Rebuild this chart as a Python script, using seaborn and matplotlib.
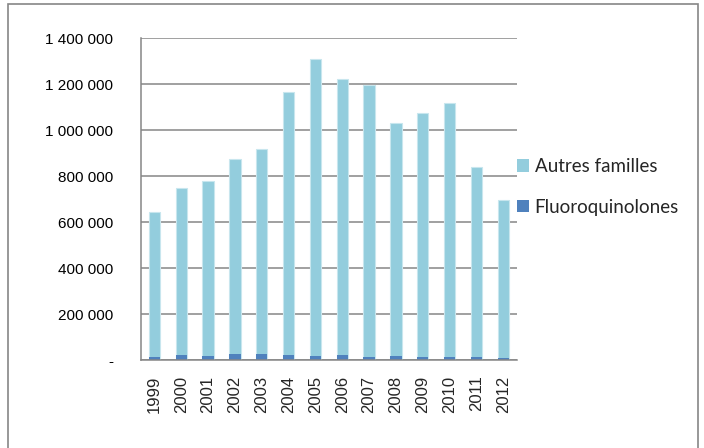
import matplotlib
matplotlib.use("Agg")
import matplotlib.pyplot as plt
from matplotlib.patches import Patch, Rectangle
import seaborn as sns
import pandas as pd
import numpy as np

# Data
years = ['1999', '2000', '2001', '2002', '2003', '2004', '2005',
         '2006', '2007', '2008', '2009', '2010', '2011', '2012']
fluoroquinolones = [15000, 22000, 20000, 26000, 26000, 22000, 20000,
                    22000, 15000, 17000, 15000, 15000, 13000, 10000]
autres_familles = [631000, 726000, 760000, 849000, 893000, 1143000, 1289000,
                   1200000, 1181000, 1015000, 1059000, 1104000, 827000, 687000]
y_ticks = [0, 200000, 400000, 600000, 800000, 1000000, 1200000, 1400000]

df = pd.DataFrame({'Annee': years,
                   'Fluoro': fluoroquinolones,
                   'Autres': autres_familles})
df['Total'] = df['Fluoro'] + df['Autres']

c_autres = '#93CDDD'
c_fluoro = '#4F81BD'
grid_c = '#868686'

sns.set_style('white')
plt.rcParams['font.family'] = ['Liberation Sans', 'DejaVu Sans']

fig = plt.figure(figsize=(7.04, 4.48), dpi=100)
ax = fig.add_axes([141 / 704, 1 - 360.3 / 448, (516.7 - 141) / 704, (360.3 - 38.3) / 448])

# stacked bars: total first, fluoroquinolones on top of it from zero
sns.barplot(data=df, x='Annee', y='Total', color=c_autres, width=0.42,
            edgecolor='#C8E6EE', linewidth=0.8, ax=ax, saturation=1)
sns.barplot(data=df, x='Annee', y='Fluoro', color=c_fluoro, width=0.42,
            linewidth=0, ax=ax, saturation=1)

ax.set_xlim(-0.5, len(years) - 0.5)
ax.set_ylim(0, 1400000)
ax.set_yticks(y_ticks)
ax.set_yticklabels(['-' if v == 0 else f'{v:,}'.replace(',', ' ') for v in y_ticks],
                   fontsize=11, color='#000000')
ax.yaxis.grid(True, color=grid_c, linewidth=1.1)
ax.set_axisbelow(True)
ax.set_xlabel('')
ax.set_ylabel('')

ax.tick_params(axis='x', which='major', length=0, pad=11, labelsize=12, labelrotation=90)
ax.set_xticks(np.arange(-0.5, len(years), 1.0), minor=True)
ax.tick_params(axis='x', which='minor', length=5, width=1.1, color=grid_c, direction='out')
ax.tick_params(axis='y', length=4, width=1.1, color=grid_c, direction='out', pad=16)

for s in ['top', 'right']:
    ax.spines[s].set_visible(False)
for s in ['left', 'bottom']:
    ax.spines[s].set_color(grid_c)
    ax.spines[s].set_linewidth(1.1)

handles = [Patch(facecolor=c_autres, edgecolor='none', label='Autres familles'),
           Patch(facecolor=c_fluoro, edgecolor='none', label='Fluoroquinolones')]
fig.legend(handles=handles, loc='center left', bbox_to_anchor=(516.7 / 704, 1 - 187 / 448),
           frameon=False, prop={'family': 'Lato', 'size': 13.5},
           handlelength=0.65, handleheight=0.65, handletextpad=0.3,
           labelspacing=1.25, borderpad=0, borderaxespad=0)

# outer chart frame
fig.patches.append(Rectangle((8 / 704, -0.02), (697.7 - 8) / 704, 1 - 4 / 448 + 0.02,
                             transform=fig.transFigure, fill=False,
                             edgecolor=grid_c, linewidth=1.2))

fig.savefig('out.png', dpi=100)
